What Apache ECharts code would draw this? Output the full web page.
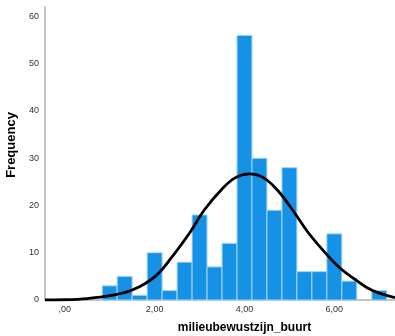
<!DOCTYPE html>
<html lang="nl">
<head>
    <meta charset="UTF-8">
    <title>milieubewustzijn_buurt</title>
    <script src="https://cdn.jsdelivr.net/npm/echarts@6/dist/echarts.min.js"></script>
    <style type="text/css">
        html, body{
            margin: 0;
            padding: 0;
            background: #fff;
        }
        #main{
            width: 395px;
            height: 336px;
        }
    </style>
</head>
<body>
    <div id="main"></div>
    <script>
        // histogram bins (centres, width 1/3) and counts
        var binCenters = [1.000, 1.333, 1.667, 2.000, 2.333, 2.667, 3.000, 3.333, 3.667, 4.000,
                          4.333, 4.667, 5.000, 5.333, 5.667, 6.000, 6.333, 6.667, 7.000];
        var binCounts  = [3, 5, 1, 10, 2, 8, 18, 7, 12, 56,
                          30, 19, 28, 6, 6, 14, 4, 0, 2];
        var binWidth = 1 / 3;

        // normal curve, points
        var curveX = [-0.44, 0.0, 0.5, 1.0, 1.5, 2.0, 2.4, 2.8, 3.1, 3.5, 3.8, 4.1, 4.4, 4.7, 5.0, 5.4, 5.75, 6.1, 6.5, 6.85, 7.35];
        var curveY = [0.0, 0.05, 0.3, 0.9, 2.1, 4.9, 9.3, 14.5, 19.0, 23.5, 25.9, 26.7, 26.0, 23.6, 20.0, 14.5, 10.5, 7.0, 4.1, 2.0, 0.5];

        var xTickValues = [0, 2, 4, 6];
        var yTickValues = [0, 10, 20, 30, 40, 50, 60];

        var myChart = echarts.init(document.getElementById('main'));

        var histData = binCenters.map(function (c, i) { return [c, binCounts[i]]; });
        var curveData = curveX.map(function (x, i) { return [x, curveY[i]]; });

        var option = {
            animation: false,
            textStyle: {
                fontFamily: 'Liberation Sans, Arial, sans-serif'
            },
            grid: {
                left: 45,
                right: 0,
                top: 7,
                bottom: 36,
                outerBoundsMode: 'none'
            },
            xAxis: {
                type: 'value',
                min: -0.44,
                max: 7.35,
                name: 'milieubewustzijn_buurt',
                nameLocation: 'middle',
                nameGap: 22,
                nameTextStyle: {
                    fontSize: 12,
                    fontWeight: 'bold',
                    color: '#000',
                    padding: [0, 0, 0, 49]
                },
                axisLine: {
                    show: true,
                    onZero: false,
                    lineStyle: { color: '#c4c4c4', width: 2 }
                },
                axisTick: { show: false },
                splitLine: { show: false },
                axisLabel: {
                    customValues: xTickValues,
                    fontSize: 9,
                    color: '#333',
                    margin: 5,
                    formatter: function (v) {
                        // SPSS style: comma decimal, no leading zero
                        return v.toFixed(2).replace('.', ',').replace(/^0/, '');
                    }
                }
            },
            yAxis: {
                type: 'value',
                min: 0,
                max: 62,
                name: 'Frequency',
                nameLocation: 'middle',
                nameGap: 24,
                nameTextStyle: {
                    fontSize: 13,
                    fontWeight: 'bold',
                    color: '#000',
                    padding: [0, 0, 0, 17]
                },
                axisLine: {
                    show: true,
                    onZero: false,
                    lineStyle: { color: '#c4c4c4', width: 2 }
                },
                axisTick: { show: false },
                splitLine: { show: false },
                axisLabel: {
                    customValues: yTickValues,
                    fontSize: 9,
                    color: '#333',
                    margin: 6
                }
            },
            series: [
                {
                    type: 'custom',
                    data: histData,
                    encode: { x: 0, y: 1 },
                    renderItem: function (params, api) {
                        var c = api.value(0);
                        var n = api.value(1);
                        if (!n) return null;
                        var p0 = api.coord([c - binWidth / 2, n]);
                        var p1 = api.coord([c + binWidth / 2, 0]);
                        return {
                            type: 'rect',
                            shape: {
                                x: p0[0],
                                y: p0[1],
                                width: p1[0] - p0[0],
                                height: p1[1] - p0[1]
                            },
                            style: {
                                fill: '#1592e6',
                                stroke: '#a8d5f6',
                                lineWidth: 1
                            }
                        };
                    },
                    z: 2
                },
                {
                    type: 'line',
                    data: curveData,
                    smooth: 0.4,
                    showSymbol: false,
                    lineStyle: { color: '#000', width: 2.8 },
                    z: 3
                }
            ]
        };

        myChart.setOption(option);
    </script>
</body>
</html>
